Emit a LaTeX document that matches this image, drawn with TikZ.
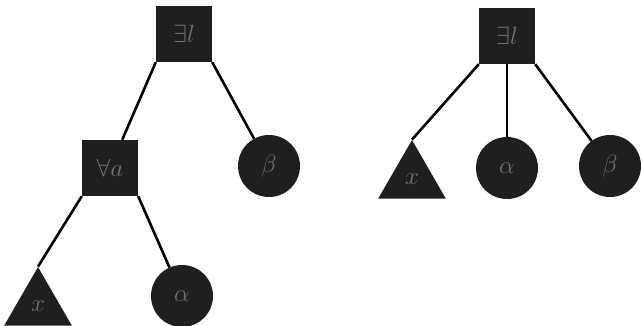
\documentclass[tikz,border=0pt]{standalone}
\usepackage{amssymb, amsmath}
\usepackage{tikz}
\usetikzlibrary{shapes.geometric}

\begin{document}
\begin{tikzpicture}[x=1pt, y=-1pt,
		quant/.style={rectangle, fill=black!88, text=black!55, minimum size=56pt, inner sep=0pt},
		term/.style={circle, fill=black!88, text=black!55, minimum size=62pt, inner sep=0pt},
		var/.style={regular polygon, regular polygon sides=3, fill=black!88, text=black!55, minimum size=78pt, inner sep=0pt},
		edge/.style={line width=2.6pt},
		font=\fontsize{24}{24}\selectfont]
		% Bildbereich
		\useasboundingbox (0,0) rectangle (642,326);
		% linker Baum
		\node[quant] (ex1) at (184,34) {$\exists l$};
		\node[quant] (all1) at (110,168) {$\forall a$};
		\node[term] (beta1) at (269,166) {$\beta$};
		\node[var] (x1) at (38,306) {$x$};
		\node[term] (alpha1) at (182,296) {$\alpha$};
		\draw[edge] (ex1.south west) -- (all1);
		\draw[edge] (ex1.south east) -- (beta1);
		\draw[edge] (all1.south west) -- (x1.corner 1);
		\draw[edge] (all1.south east) -- (alpha1);
		% rechter Baum
		\node[quant] (ex2) at (507,36) {$\exists l$};
		\node[var] (x2) at (412,179) {$x$};
		\node[term] (alpha2) at (507,168) {$\alpha$};
		\node[term] (beta2) at (610,166) {$\beta$};
		\draw[edge] (ex2.south west) -- (x2.corner 1);
		\draw[edge] (ex2.south) -- (alpha2);
		\draw[edge] (ex2.south east) -- (beta2);
	\end{tikzpicture}
\end{document}
